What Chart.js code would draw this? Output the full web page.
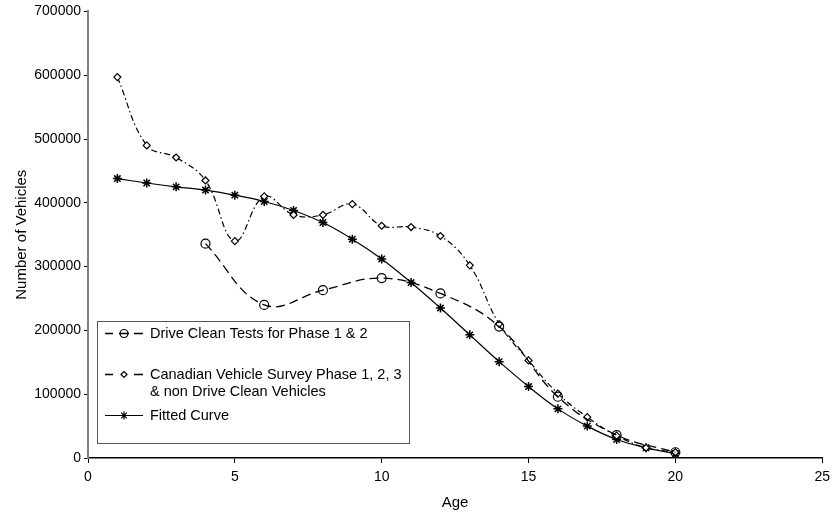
<!DOCTYPE html>
<html>
<head>
<meta charset="utf-8">
<script src="https://cdn.jsdelivr.net/npm/chart.js@4/dist/chart.umd.min.js"></script>
<style>
  html, body { margin: 0; padding: 0; background: #fff; }
  #wrap { width: 836px; height: 514px; }
</style>
</head>
<body>
<div id="wrap"><canvas id="chart" width="836" height="514"></canvas></div>
<script>
// values
const driveCleanAges = [4, 6, 8, 10, 12, 14, 16, 18, 20];
const driveCleanValues = [336000, 240000, 263000, 282000, 258000, 206000, 96000, 36000, 9000];

const surveyAges = [1, 2, 3, 4, 5, 6, 7, 8, 9, 10, 11, 12, 13, 14, 15, 16, 17, 18, 19, 20];
const surveyValues = [597000, 490000, 471000, 435000, 340000, 410000, 381000, 381000, 398000, 364000,
  362000, 348000, 302000, 210000, 153000, 101000, 64000, 35000, 16000, 9000];

const fittedAges = [1, 2, 3, 4, 5, 6, 7, 8, 9, 10, 11, 12, 13, 14, 15, 16, 17, 18, 19, 20];
const fittedValues = [438000, 431000, 425000, 420000, 412000, 402000, 388000, 369000, 343000, 312000,
  275000, 235000, 193000, 151000, 112000, 77000, 50000, 29000, 16000, 7000];

const seriesLabels = [
  ['Drive Clean Tests for Phase 1 & 2'],
  ['Canadian Vehicle Survey Phase 1, 2, 3', '& non Drive Clean Vehicles'],
  ['Fitted Curve']
];

const FONT = 'Arial, "Liberation Sans", sans-serif';

function toPoints(xs, ys) {
  return xs.map((x, i) => ({ x: x, y: ys[i] }));
}

// legend box drawn inside the plot like the original
const boxLegend = {
  id: 'boxLegend',
  afterDraw(chart) {
    const ctx = chart.ctx;
    const left = 97, top = 321, right = 409, bottom = 443;
    ctx.save();
    ctx.fillStyle = '#fff';
    ctx.fillRect(left, top, right - left, bottom - top);
    ctx.strokeStyle = '#555';
    ctx.lineWidth = 1;
    ctx.strokeRect(left + 0.5, top + 0.5, right - left, bottom - top);

    const rows = [333, 374, 415];
    chart.data.datasets.forEach((ds, i) => {
      const y = rows[i] + 0.5;
      ctx.strokeStyle = '#000';
      ctx.lineWidth = i === 2 ? 1 : 1.6;
      ctx.beginPath();
      if (i === 2) {
        ctx.moveTo(105, y);
        ctx.lineTo(143, y);
      } else {
        ctx.moveTo(105, y);
        ctx.lineTo(113, y);
        ctx.moveTo(134, y);
        ctx.lineTo(143, y);
        if (i === 0) {
          // line runs through the hollow circle
          ctx.moveTo(119, y);
          ctx.lineTo(129, y);
        }
      }
      ctx.stroke();
      ctx.fillStyle = ds.pointBackgroundColor;
      ctx.lineWidth = 1.2;
      Chart.helpers.drawPoint(ctx, {
        pointStyle: ds.pointStyle,
        radius: ds.pointRadius - 0.5,
        borderWidth: 1.2
      }, 124, y);

      ctx.fillStyle = '#000';
      ctx.font = '14.5px ' + FONT;
      ctx.textBaseline = 'middle';
      seriesLabels[i].forEach((line, j) => {
        ctx.fillText(line, 150, y + j * 17);
      });
    });
    ctx.restore();
  }
};

new Chart(document.getElementById('chart'), {
  type: 'scatter',
  data: {
    datasets: [
      {
        label: seriesLabels[0].join(' '),
        data: toPoints(driveCleanAges, driveCleanValues),
        showLine: true,
        borderColor: '#000',
        borderWidth: 1.3,
        borderDash: [9, 5],
        tension: 0.4,
        pointStyle: 'circle',
        pointRadius: 4.5,
        pointBorderWidth: 1.2,
        pointBorderColor: '#000',
        pointBackgroundColor: 'rgba(0,0,0,0)'
      },
      {
        label: seriesLabels[1].join(' '),
        data: toPoints(surveyAges, surveyValues),
        showLine: true,
        borderColor: '#000',
        borderWidth: 1.2,
        borderDash: [6, 3, 1.5, 3],
        tension: 0.4,
        pointStyle: 'rectRot',
        pointRadius: 3.5,
        pointBorderWidth: 1.2,
        pointBorderColor: '#000',
        pointBackgroundColor: '#fff'
      },
      {
        label: seriesLabels[2].join(' '),
        data: toPoints(fittedAges, fittedValues),
        showLine: true,
        borderColor: '#000',
        borderWidth: 1.2,
        tension: 0.4,
        pointStyle: 'star',
        pointRadius: 4.5,
        pointBorderWidth: 1.5,
        pointBorderColor: '#000',
        pointBackgroundColor: '#000'
      }
    ]
  },
  options: {
    responsive: false,
    animation: false,
    layout: { padding: { left: 0, top: 11, right: 10, bottom: 0 } },
    plugins: {
      legend: { display: false },
      tooltip: { enabled: false }
    },
    scales: {
      x: {
        type: 'linear',
        min: 0,
        max: 25,
        afterFit: (s) => { s.height = 56; },
        ticks: { stepSize: 5, color: '#000', padding: 6, font: { family: FONT, size: 14 } },
        grid: { drawOnChartArea: false, drawTicks: true, tickLength: 5, color: '#000' },
        border: { color: '#000', width: 1.5 },
        title: { display: true, text: 'Age', color: '#000', padding: { top: 9, bottom: 2 }, font: { family: FONT, size: 15 } }
      },
      y: {
        min: 0,
        max: 700000,
        afterFit: (s) => { s.width = 88; },
        ticks: {
          stepSize: 100000, color: '#000', padding: 3, font: { family: FONT, size: 14 },
          callback: (v) => String(v)
        },
        grid: { drawOnChartArea: false, drawTicks: true, tickLength: 4, color: '#000' },
        border: { color: '#808080', width: 2 },
        title: { display: true, text: 'Number of Vehicles', color: '#000', padding: { top: 13, bottom: 0 }, font: { family: FONT, size: 15 } }
      }
    }
  },
  plugins: [boxLegend]
});
</script>
</body>
</html>
